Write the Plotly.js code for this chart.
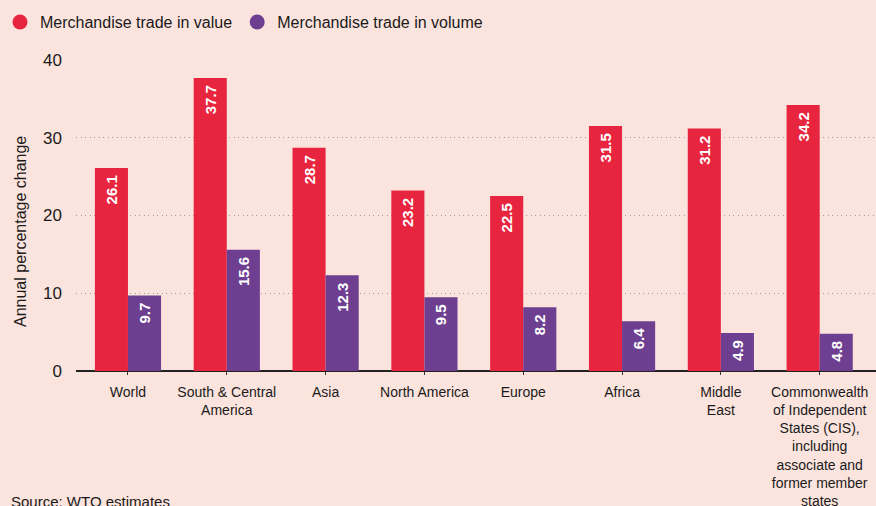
<!DOCTYPE html>
<html><head><meta charset="utf-8">
<script src="https://cdn.plot.ly/plotly-3.0.1.min.js"></script>
<style>body{margin:0;background:#FCE4DE;} #c{width:876px;height:506px;}</style>
</head><body><div id="c"></div>
<script>
const categories = ["World","South & Central<br>America","Asia","North America","Europe","Africa","Middle<br>East","Commonwealth<br>of Independent<br>States (CIS),<br>including<br>associate and<br>former member<br>states"];
const valueChange = [26.1,37.7,28.7,23.2,22.5,31.5,31.2,34.2];
const volumeChange = [9.7,15.6,12.3,9.5,8.2,6.4,4.9,4.8];
const seriesNames = ["Merchandise trade in value","Merchandise trade in volume"];
const colors = ["#E8253F","#6E3F91"];
const idx = categories.map((c,i)=>i);

const barText = {family:"Liberation Sans, Arial, sans-serif", size:15, color:"#ffffff", weight:"bold"};
const label = v => v.toFixed(1) + "\u00a0";
const traces = [
  {type:"bar", x:idx, y:valueChange, marker:{color:colors[0]}, text:valueChange.map(label), textposition:"inside", insidetextanchor:"end", textangle:-90, textfont:barText, showlegend:false, hoverinfo:"y"},
  {type:"bar", x:idx, y:volumeChange, marker:{color:colors[1]}, text:volumeChange.map(label), textposition:"inside", insidetextanchor:"end", textangle:-90, textfont:barText, showlegend:false, hoverinfo:"y"},
  {type:"scatter", mode:"markers", x:[null], y:[null], name:seriesNames[0], marker:{color:colors[0], size:15, symbol:"circle"}},
  {type:"scatter", mode:"markers", x:[null], y:[null], name:seriesNames[1], marker:{color:colors[1], size:15, symbol:"circle"}}
];
const layout = {
  width:876, height:506,
  paper_bgcolor:"#FCE4DE", plot_bgcolor:"#FCE4DE",
  margin:{l:76, r:0, t:60, b:135},
  font:{family:"Liberation Sans, Arial, sans-serif", size:14, color:"#1a1a1a"},
  barmode:"group", bargap:0.33, bargroupgap:0,
  showlegend:true,
  legend:{orientation:"h", xref:"container", yref:"container", x:0, y:0.99, xanchor:"left", yanchor:"top", font:{size:16, color:"#1a1a1a"}, bgcolor:"rgba(0,0,0,0)", itemwidth:30, tracegroupgap:0},
  xaxis:{range:[-0.526,7.57], tickmode:"array", tickvals:idx, ticktext:categories, ticks:"outside", ticklen:3, tickcolor:"#333", ticklabelstandoff:5, showgrid:false, zeroline:false, showline:false, fixedrange:true, tickfont:{size:14, color:"#1a1a1a"}},
  yaxis:{range:[0,40], tickvals:[0,10,20,30,40], ticks:"", showgrid:true, gridcolor:"#a09a98", griddash:"1px,3.5px", gridwidth:1.3, zeroline:true, zerolinecolor:"#222", zerolinewidth:1.5, ticklabelstandoff:13, tickfont:{size:17, color:"#1a1a1a"}},
  annotations:[
    {text:"Annual percentage change", xref:"paper", yref:"paper", x:(20-76)/800, y:(371-232)/311, xanchor:"center", yanchor:"middle", textangle:-90, showarrow:false, font:{size:16, color:"#1a1a1a"}},
    {text:"Source: WTO estimates", xref:"paper", yref:"paper", x:(9-76)/800, y:(371-491)/311, xanchor:"left", yanchor:"top", showarrow:false, font:{size:15, color:"#1a1a1a"}}
  ]
};
Plotly.newPlot("c", traces, layout, {displayModeBar:false, staticPlot:true});
</script></body></html>
